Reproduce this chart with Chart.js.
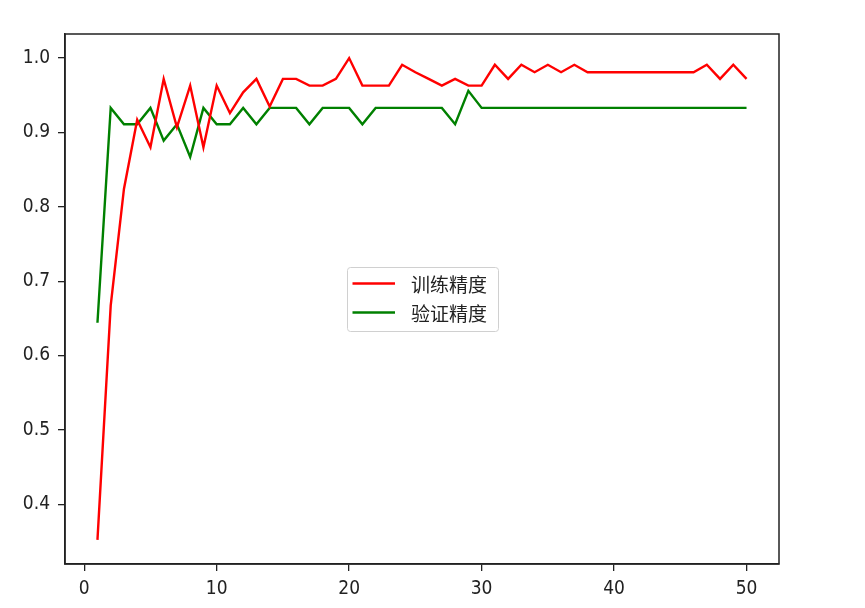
<!DOCTYPE html>
<html>
<head>
<meta charset="utf-8">
<script src="https://cdn.jsdelivr.net/npm/chart.js@4.4.0/dist/chart.umd.min.js"></script>
<style>
  html, body { margin: 0; padding: 0; background: #fff; }
  #wrap { width: 865px; height: 608px; position: relative; }
</style>
</head>
<body>
<div id="wrap"><canvas id="c" width="865" height="608"></canvas></div>
<script>
// ---- data ----
const epochs = [1,2,3,4,5,6,7,8,9,10,11,12,13,14,15,16,17,18,19,20,21,22,23,24,25,26,27,28,29,30,31,32,33,34,35,36,37,38,39,40,41,42,43,44,45,46,47,48,49,50];
const trainAcc = [0.352,0.667,0.824,0.917,0.880,0.972,0.907,0.963,0.880,0.963,
                  0.926,0.954,0.972,0.935,0.972,0.972,0.963,0.963,0.972,1.000,
                  0.963,0.963,0.963,0.991,0.981,0.972,0.963,0.972,0.963,0.963,
                  0.991,0.972,0.991,0.981,0.991,0.981,0.991,0.981,0.981,0.981,
                  0.981,0.981,0.981,0.981,0.981,0.981,0.991,0.972,0.991,0.972];
const valAcc = [0.644,0.933,0.911,0.911,0.933,0.889,0.911,0.867,0.933,0.911,
                0.911,0.933,0.911,0.933,0.933,0.933,0.911,0.933,0.933,0.933,
                0.911,0.933,0.933,0.933,0.933,0.933,0.933,0.911,0.956,0.933,
                0.933,0.933,0.933,0.933,0.933,0.933,0.933,0.933,0.933,0.933,
                0.933,0.933,0.933,0.933,0.933,0.933,0.933,0.933,0.933,0.933];
const seriesLabels = ['训练精度', '验证精度'];
const xTicks = [0, 10, 20, 30, 40, 50];
const yTicks = [0.4, 0.5, 0.6, 0.7, 0.8, 0.9, 1.0];

const FONT = '"Liberation Sans Narrow", "DejaVu Sans Condensed", "Noto Sans CJK SC", sans-serif';
const LEGEND_FONT = '"Noto Sans CJK SC", sans-serif';

const toPts = (ys) => epochs.map((e, i) => ({x: e, y: ys[i]}));

// frame (all four spines)
const framePlugin = {
  id: 'frame',
  afterDatasetsDraw(chart) {
    const {ctx, chartArea: a} = chart;
    ctx.save();
    ctx.strokeStyle = '#222';
    ctx.lineWidth = 1.5;
    ctx.strokeRect(a.left, a.top, a.right - a.left, a.bottom - a.top);
    ctx.restore();
  }
};

// legend box drawn inside the plot area (centre-ish, like matplotlib loc="center")
const legendPlugin = {
  id: 'boxLegend',
  afterDraw(chart) {
    const {ctx} = chart;
    const ds = chart.data.datasets;
    const bx = 347.5, by = 267.5, bw = 151, bh = 64;
    ctx.save();
    ctx.fillStyle = 'rgba(255,255,255,0.8)';
    ctx.strokeStyle = '#d0d0d0';
    ctx.lineWidth = 1;
    ctx.beginPath();
    if (ctx.roundRect) ctx.roundRect(bx, by, bw, bh, 3); else ctx.rect(bx, by, bw, bh);
    ctx.fill();
    ctx.stroke();
    ctx.font = '19px ' + LEGEND_FONT;
    ctx.textBaseline = 'middle';
    ctx.textAlign = 'left';
    const rows = [283.5, 312.5];
    ds.forEach((d, i) => {
      ctx.strokeStyle = d.borderColor;
      ctx.lineWidth = 2.4;
      ctx.beginPath();
      ctx.moveTo(352.5, rows[i]);
      ctx.lineTo(395, rows[i]);
      ctx.stroke();
      ctx.fillStyle = '#222';
      ctx.fillText(d.label, 411, rows[i] + 1);
    });
    ctx.restore();
  }
};

new Chart(document.getElementById('c'), {
  type: 'line',
  data: {
    datasets: [
      { label: seriesLabels[0], data: toPts(trainAcc), borderColor: '#ff0000', backgroundColor: '#ff0000',
        borderWidth: 2.4, pointRadius: 0, tension: 0, fill: false },
      { label: seriesLabels[1], data: toPts(valAcc), borderColor: '#008000', backgroundColor: '#008000',
        borderWidth: 2.4, pointRadius: 0, tension: 0, fill: false }
    ]
  },
  options: {
    responsive: false,
    animation: false,
    devicePixelRatio: 1,
    layout: { padding: { top: 34, right: 86, left: 0, bottom: 0 } },
    plugins: { legend: { display: false }, tooltip: { enabled: false } },
    scales: {
      x: {
        type: 'linear',
        min: -1.45, max: 52.45,
        afterBuildTicks: (s) => { s.ticks = xTicks.map(v => ({value: v})); },
        afterFit: (s) => { s.height = 44; },
        grid: { drawOnChartArea: false, drawTicks: true, tickLength: 7, color: '#222', lineWidth: 1.3 },
        border: { display: true, color: '#222', width: 1.5 },
        ticks: { color: '#222', font: { family: FONT, size: 19 }, padding: 7, maxRotation: 0,
                 callback: (v) => String(v) }
      },
      y: {
        type: 'linear',
        min: 0.3196, max: 1.0324,
        afterBuildTicks: (s) => { s.ticks = yTicks.map(v => ({value: v})); },
        afterFit: (s) => { s.width = 65; },
        grid: { drawOnChartArea: false, drawTicks: true, tickLength: 7, color: '#222', lineWidth: 1.3 },
        border: { display: true, color: '#222', width: 1.5 },
        ticks: { color: '#222', font: { family: FONT, size: 19 }, padding: 8,
                 callback: (v) => Number(v).toFixed(1) }
      }
    }
  },
  plugins: [framePlugin, legendPlugin]
});
</script>
</body>
</html>
